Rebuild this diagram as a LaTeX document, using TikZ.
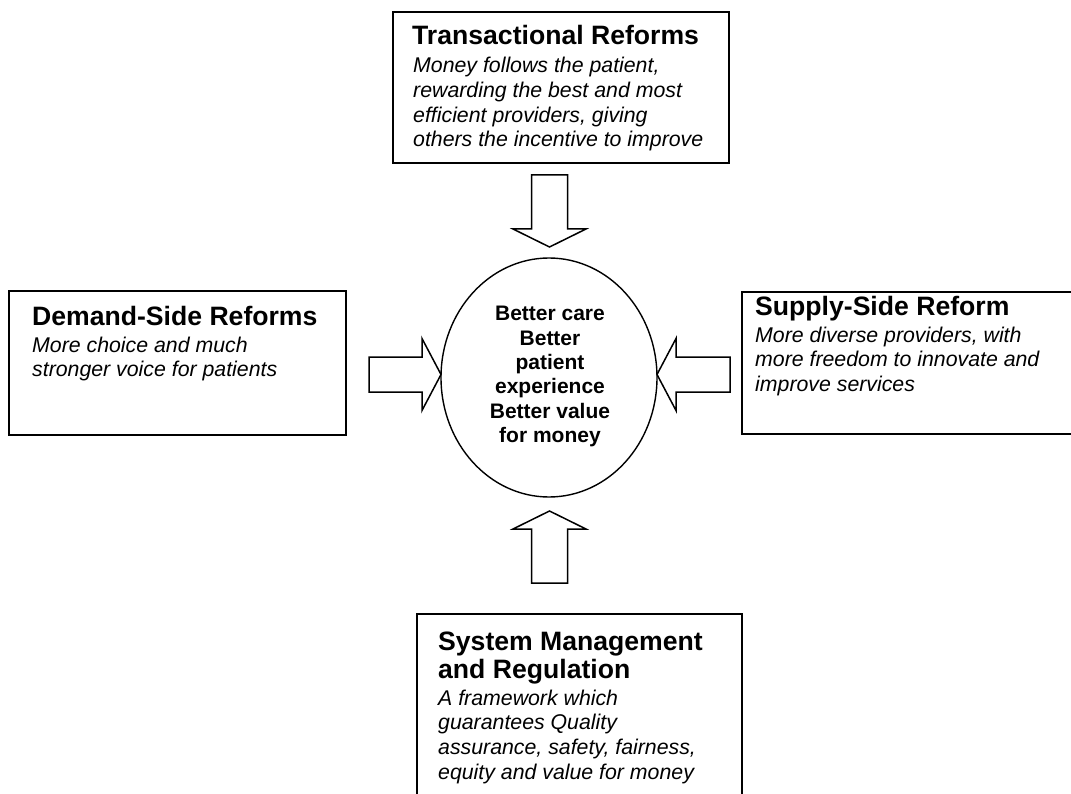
\documentclass[tikz,border=0pt]{standalone}
\usepackage{fontspec}
\setmainfont{Liberation Sans}
\begin{document}
\begin{tikzpicture}[x=1pt,y=-1pt,
  box/.style={draw=black,line width=1.8pt},
  blockarrow/.style={draw=black,line width=1.5pt,line join=miter,fill=white},
  ttl/.style={anchor=base west,inner sep=0pt,font=\bfseries\fontsize{26.6}{30}\selectfont},
  bdy/.style={anchor=base west,inner sep=0pt,font=\itshape\fontsize{21.3}{24}\selectfont},
  ctr/.style={anchor=base,inner sep=0pt,font=\bfseries\fontsize{21}{24}\selectfont}]
\clip (0,0) rectangle (1071,794);
\fill[white] (0,0) rectangle (1071,794);
% boxes
\draw[box] (393,12) rectangle (729,163);
\draw[box] (9,291) rectangle (346,435);
\draw[box] (742,292) rectangle (1090,434);
\draw[box] (417,614) rectangle (742,810);
% centre ellipse
\draw[line width=1.4pt] (549,377.5) ellipse [x radius=108, y radius=119.5];
% block arrows
\draw[blockarrow] (531.5,175) -- (567.5,175) -- (567.5,229) -- (586,229) -- (549.5,247) -- (513,229) -- (531.5,229) -- cycle;
\draw[blockarrow] (531.5,583) -- (567.5,583) -- (567.5,529) -- (586,529) -- (549.5,511) -- (513,529) -- (531.5,529) -- cycle;
\draw[blockarrow] (369,357) -- (422,357) -- (422,338.5) -- (441,374.5) -- (422,410.5) -- (422,392) -- (369,392) -- cycle;
\draw[blockarrow] (730,357) -- (676,357) -- (676,338.5) -- (657,374.5) -- (676,410.5) -- (676,392) -- (730,392) -- cycle;
% top box text
\node[ttl] (t0) at (412,45) {Transactional Reforms};
\node[bdy] (t1) at (413,72.7) {Money follows the patient,};
\node[bdy] (t2) at (413,97.4) {rewarding the best and most};
\node[bdy] (t3) at (413,122.1) {efficient providers, giving};
\node[bdy] (t4) at (413,146.8) {others the incentive to improve};
% left box text
\node[ttl] (l0) at (32,325.5) {Demand-Side Reforms};
\node[bdy] (l1) at (32,352.3) {More choice and much};
\node[bdy] (l2) at (32,376.7) {stronger voice for patients};
% right box text
\node[ttl] (r0) at (755,316) {Supply-Side Reform};
\node[bdy] (r1) at (755,342.7) {More diverse providers, with};
\node[bdy] (r2) at (755,366.9) {more freedom to innovate and};
\node[bdy] (r3) at (755,391.1) {improve services};
% bottom box text
\node[ttl] (b0) at (438,650) {System Management};
\node[ttl] (b1) at (438,678.3) {and Regulation};
\node[bdy] (b2) at (438,705) {A framework which};
\node[bdy] (b3) at (438,729.7) {guarantees Quality};
\node[bdy] (b4) at (438,754.4) {assurance, safety, fairness,};
\node[bdy] (b5) at (438,779) {equity and value for money};
% centre text
\node[ctr] (c1) at (550,320.7) {Better care};
\node[ctr] (c2) at (550,345.1) {Better};
\node[ctr] (c3) at (550,369.5) {patient};
\node[ctr] (c4) at (550,393.9) {experience};
\node[ctr] (c5) at (550,418.3) {Better value};
\node[ctr] (c6) at (550,442.7) {for money};
\end{tikzpicture}
\end{document}
